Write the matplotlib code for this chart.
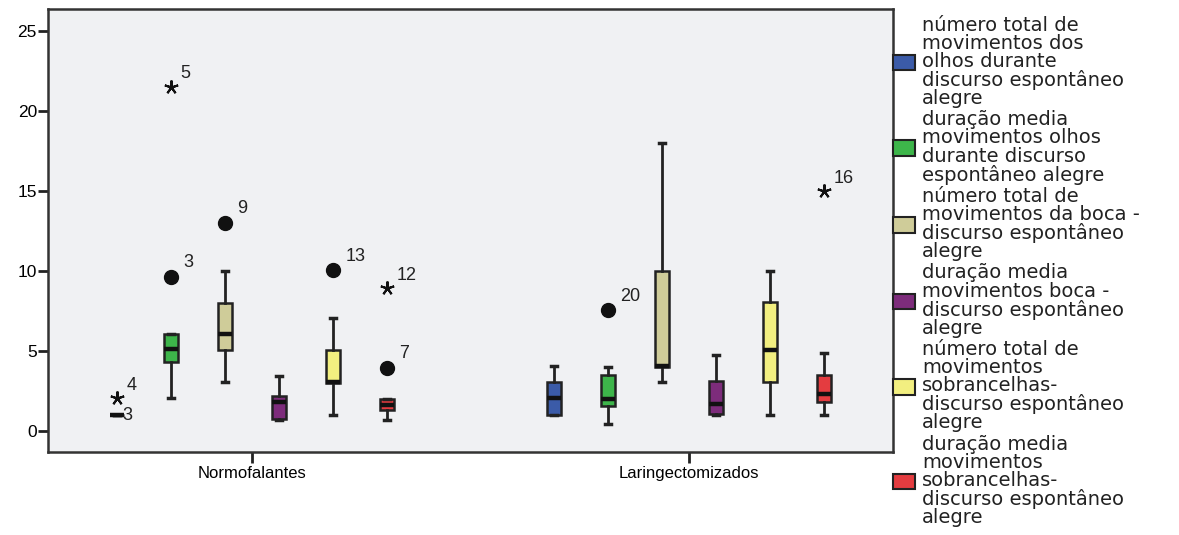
import matplotlib
matplotlib.use('Agg')
import matplotlib.pyplot as plt
from matplotlib.patches import Patch

plt.rcParams['font.family'] = ['Liberation Sans', 'DejaVu Sans']

# Grupos e séries
groups = ['Normofalantes', 'Laringectomizados']
series = [
    'número total de\nmovimentos dos\nolhos durante\ndiscurso espontâneo\nalegre',
    'duração media\nmovimentos olhos\ndurante discurso\nespontâneo alegre',
    'número total de\nmovimentos da boca -\ndiscurso espontâneo\nalegre',
    'duração media\nmovimentos boca -\ndiscurso espontâneo\nalegre',
    'número total de\nmovimentos\nsobrancelhas-\ndiscurso espontâneo\nalegre',
    'duração media\nmovimentos\nsobrancelhas-\ndiscurso espontâneo\nalegre',
]
colors = ['#3B5BA8', '#3DB54A', '#CFCC99', '#7D2C7B', '#F2EF80', '#E43C40']

# estatísticas por série: [Normofalantes, Laringectomizados]
whislo = [[1.0, 1.0], [2.1, 0.45], [3.05, 3.05], [0.7, 1.0], [1.0, 1.0], [0.7, 1.0]]
q1 = [[1.0, 1.0], [4.35, 1.6], [5.05, 4.0], [0.75, 1.05], [3.0, 3.05], [1.3, 1.8]]
med = [[1.0, 2.1], [5.15, 2.0], [6.05, 4.1], [1.8, 1.7], [3.05, 5.05], [1.65, 2.3]]
q3 = [[1.0, 3.05], [6.1, 3.5], [8.0, 10.0], [2.2, 3.15], [5.05, 8.05], [2.0, 3.5]]
whishi = [[1.0, 4.05], [6.1, 4.0], [10.0, 18.0], [3.45, 4.75], [7.05, 10.0], [2.0, 4.9]]

# outliers: (grupo, série, valor, rótulo, tipo)
outliers = [
    (0, 0, 2.05, '4', 'star'),
    (0, 0, 1.0, '3', 'none'),
    (0, 1, 9.65, '3', 'circle'),
    (0, 1, 21.55, '5', 'star'),
    (0, 2, 13.05, '9', 'circle'),
    (0, 4, 10.05, '13', 'circle'),
    (0, 5, 3.95, '7', 'circle'),
    (0, 5, 8.95, '12', 'star'),
    (1, 1, 7.55, '20', 'circle'),
    (1, 5, 15.0, '16', 'star'),
]

step = 0.1236
width = 0.03


def pos(g, s):
    return g + (s - 2.5) * step


fig = plt.figure(figsize=(11.79, 5.35), dpi=100)
ax = fig.add_axes([48 / 1179, 83 / 535, 845 / 1179, 443 / 535])
ax.set_facecolor('#F0F1F3')

for s in range(len(series)):
    stats = []
    positions = []
    for g in range(len(groups)):
        stats.append(dict(whislo=whislo[s][g], q1=q1[s][g], med=med[s][g],
                          q3=q3[s][g], whishi=whishi[s][g], fliers=[]))
        positions.append(pos(g, s))
    ax.bxp(stats, positions=positions, widths=width, capwidths=0.014,
           patch_artist=True, showfliers=False,
           boxprops=dict(facecolor=colors[s], edgecolor='#222222', linewidth=1.8),
           medianprops=dict(color='#111111', linewidth=3.2, solid_capstyle='butt'),
           whiskerprops=dict(color='#222222', linewidth=2),
           capprops=dict(color='#222222', linewidth=2.5))

for g, s, v, lab, kind in outliers:
    x = pos(g, s)
    if kind == 'circle':
        ax.plot(x, v, marker='o', markersize=10, color='#111111', linestyle='none')
        ax.annotate(lab, (x, v), xytext=(9, 7), textcoords='offset points',
                    fontsize=13, color='#222222')
    elif kind == 'star':
        ax.plot(x, v, marker=(5, 2, 0), markersize=10, markeredgewidth=1.5,
                color='#111111', linestyle='none')
        ax.annotate(lab, (x, v), xytext=(7, 6), textcoords='offset points',
                    fontsize=13, color='#222222')
    else:
        ax.annotate(lab, (x, v), xytext=(4, 0), textcoords='offset points',
                    fontsize=13, color='#222222', va='center')

ax.set_xlim(-0.467, 1.467)
ax.set_ylim(-1.3, 26.4)
ax.set_xticks(range(len(groups)))
ax.set_xticklabels(groups, fontsize=12)
ax.set_yticks([0, 5, 10, 15, 20, 25])
ax.tick_params(axis='y', length=7, width=2, labelsize=12.5, pad=1, color='#222222')
ax.tick_params(axis='x', length=8, width=2, labelsize=12, pad=2, color='#222222')
for sp in ax.spines.values():
    sp.set_linewidth(1.8)
    sp.set_color('#333333')

handles = [Patch(facecolor=c, edgecolor='#222222', linewidth=1.5) for c in colors]
leg = ax.legend(handles, series, loc='upper left', bbox_to_anchor=(1.0, 0.985),
                frameon=False, prop={'family': 'DejaVu Sans', 'size': 14},
                handlelength=1.15, handleheight=0.85,
                handletextpad=0.35, labelspacing=0.12, borderaxespad=0,
                borderpad=0)
for t in leg.get_texts():
    t.set_linespacing(0.94)
    t.set_color('#222222')

fig.savefig('out.png', dpi=100)
